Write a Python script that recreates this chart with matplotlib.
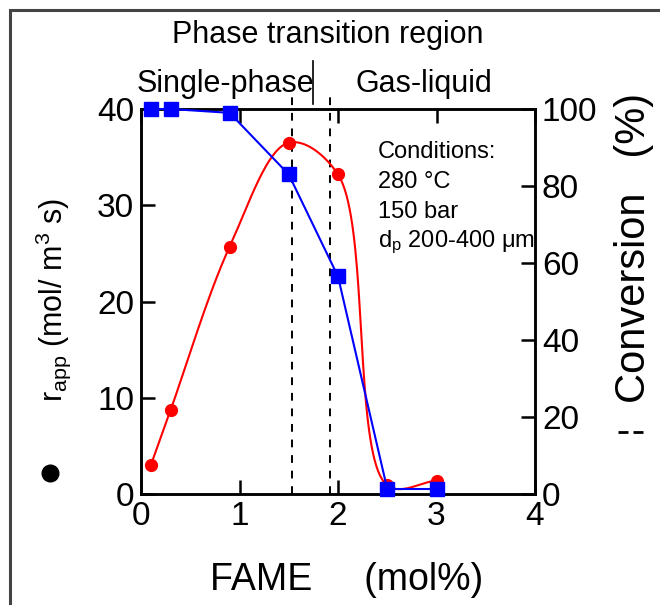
import matplotlib
matplotlib.use("Agg")
import matplotlib.pyplot as plt
import numpy as np
from matplotlib.patches import Rectangle
from matplotlib.lines import Line2D

plt.rcParams["font.family"] = ["Liberation Sans", "DejaVu Sans"]
plt.rcParams["mathtext.fontset"] = "custom"
plt.rcParams["mathtext.rm"] = "Liberation Sans"
plt.rcParams["mathtext.it"] = "Liberation Sans:italic"

# data
fame = [0.1, 0.3, 0.9, 1.5, 2.0, 2.5, 3.0]
rate = [3.0, 8.7, 25.7, 36.5, 33.2, 0.9, 1.4]        # r_app (mol/m3 s)
conversion = [100, 100, 99, 83, 56.5, 1.3, 1.3]       # %
phase_bounds = [1.53, 1.92]
conditions = ["Conditions:", "280 \u00b0C", "150 bar", "d$_{\\rm p}$ 200-400 \u03bcm"]


def smooth_curve(x, y, xspan, yspan, n=40, alpha=0.5):
    # centripetal Catmull-Rom through the points, in axis-normalised space
    p = np.column_stack([np.asarray(x) / xspan, np.asarray(y) / yspan])
    p = np.vstack([2 * p[0] - p[1], p, 2 * p[-1] - p[-2]])
    out = []
    for i in range(1, len(p) - 2):
        p0, p1, p2, p3 = p[i - 1], p[i], p[i + 1], p[i + 2]
        t0 = 0.0
        t1 = t0 + np.linalg.norm(p1 - p0) ** alpha
        t2 = t1 + np.linalg.norm(p2 - p1) ** alpha
        t3 = t2 + np.linalg.norm(p3 - p2) ** alpha
        t = np.linspace(t1, t2, n)[:, None]
        a1 = (t1 - t) / (t1 - t0) * p0 + (t - t0) / (t1 - t0) * p1
        a2 = (t2 - t) / (t2 - t1) * p1 + (t - t1) / (t2 - t1) * p2
        a3 = (t3 - t) / (t3 - t2) * p2 + (t - t2) / (t3 - t2) * p3
        b1 = (t2 - t) / (t2 - t0) * a1 + (t - t0) / (t2 - t0) * a2
        b2 = (t3 - t) / (t3 - t1) * a2 + (t - t1) / (t3 - t1) * a3
        out.append((t2 - t) / (t2 - t1) * b1 + (t - t1) / (t2 - t1) * b2)
    out = np.vstack(out)
    return out[:, 0] * xspan, out[:, 1] * yspan


fig = plt.figure(figsize=(6.6, 6.05), dpi=100)
fig.patch.set_facecolor("white")
fig.patches.append(Rectangle((10 / 660, -0.1), 1.2, 1.1 - 10 / 605,
                             transform=fig.transFigure, fill=False,
                             edgecolor="#444444", linewidth=2.2))

ax = fig.add_axes([141 / 660, 111 / 605, 394 / 660, 385 / 605])
ax2 = ax.twinx()

xs, ys = smooth_curve(fame, rate, 4.0, 40.0)
ax.plot(xs, ys, color="red", linewidth=1.5, zorder=3)
ax.plot(fame, rate, "o", color="red", markersize=8.5, zorder=4, clip_on=False)

ax2.plot(fame, conversion, "-s", color="blue", linewidth=1.5,
         markersize=10, zorder=4, clip_on=False)

for xb in phase_bounds:
    ax.plot([xb, xb], [0, 41.3], color="black", linestyle=(0, (4, 4)),
            linewidth=1.4, clip_on=False, zorder=2)

ax.set_xlim(0, 4)
ax.set_ylim(0, 40)
ax2.set_ylim(0, 100)
ax.set_xticks([0, 1, 2, 3, 4])
ax.set_yticks([0, 10, 20, 30, 40])
ax2.set_yticks([0, 20, 40, 60, 80, 100])

for a in (ax, ax2):
    for s in a.spines.values():
        s.set_linewidth(1.8)
ax.tick_params(direction="in", length=10, width=1.8, labelsize=24,
               top=True, pad=5)
ax2.tick_params(direction="in", length=10, width=1.8, labelsize=24, pad=5)

ax.set_xlabel("FAME     (mol%)", fontsize=27, va="center")
ax.xaxis.set_label_coords((347 - 141) / 394, -(580 - 494) / 385)

ax.set_ylabel("r$_{\\rm app}$ (mol/ m$^3$ s)", fontsize=22, va="center")
ax.yaxis.set_label_coords((53 - 141) / 394, (494 - 300) / 385)

ax2.set_ylabel("Conversion   (%)", fontsize=30, va="center")
ax2.yaxis.set_label_coords((634 - 141) / 394, (494 - 248) / 385)

# series symbols next to the axis labels
fig.add_artist(Line2D([50 / 660], [1 - 473 / 605], marker="o", color="black",
                      markersize=12, transform=fig.transFigure))
fig.add_artist(Line2D([618 / 660, 644 / 660], [1 - 432 / 605, 1 - 432 / 605],
                      color="black", linestyle=(0, (3.6, 1.8)), linewidth=2,
                      transform=fig.transFigure))

fig.text(328 / 660, 1 - 35 / 605, "Phase transition region", fontsize=22,
         ha="center", va="center")
fig.text(225 / 660, 1 - 84 / 605, "Single-phase", fontsize=22,
         ha="center", va="center")
fig.text(424 / 660, 1 - 84 / 605, "Gas-liquid", fontsize=22,
         ha="center", va="center")
fig.add_artist(Line2D([313 / 660, 313 / 660], [1 - 61 / 605, 1 - 104 / 605],
                      color="black", linewidth=1.2, transform=fig.transFigure))

for i, line in enumerate(conditions):
    fig.text(378 / 660, 1 - (152 + 30 * i) / 605, line, fontsize=17,
             ha="left", va="center")

fig.savefig("out.png", dpi=100)
